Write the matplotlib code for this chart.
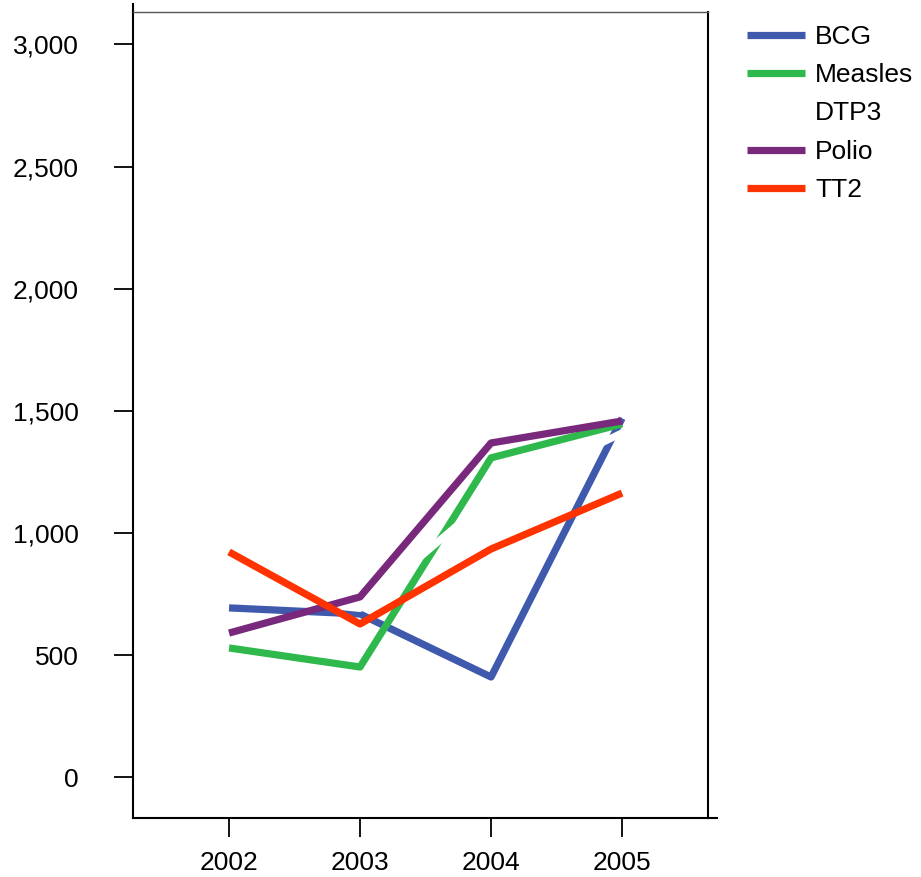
import matplotlib
matplotlib.use('Agg')
import matplotlib.pyplot as plt
from matplotlib.ticker import FuncFormatter

plt.rcParams['font.family'] = ['Liberation Sans', 'DejaVu Sans']

years = [2002, 2003, 2004, 2005]
bcg = [694, 669, 411, 1470]
measles = [530, 452, 1308, 1447]
dtp3 = [745, 692, 1150, 1410]
polio = [591, 739, 1369, 1459]
tt2 = [923, 628, 935, 1164]

names = ['BCG', 'Measles', 'DTP3', 'Polio', 'TT2']
colors = ['#3f59ad', '#2fb84b', '#ffffff', '#79297c', '#ff3300']
series = [bcg, measles, dtp3, polio, tt2]

W, H = 921, 877
fig = plt.figure(figsize=(W / 100, H / 100), dpi=100)
ax = fig.add_axes([133 / W, 1 - 818 / H, (708 - 133) / W, (818 - 12) / H])

for name, col, vals in zip(names, colors, series):
    ax.plot(years, vals, color=col, lw=5.2, label=name, solid_capstyle='butt')

ax.set_xlim(2001.267, 2005.656)
ax.set_ylim(-166, 3133)
ax.set_xticks(years)
ax.set_yticks([0, 500, 1000, 1500, 2000, 2500, 3000])
ax.yaxis.set_major_formatter(FuncFormatter(lambda v, p: '{:,.0f}'.format(v)))
ax.tick_params(axis='both', labelsize=19, length=14, width=1.3, color='black')
ax.tick_params(axis='y', pad=25)
ax.tick_params(axis='x', pad=10)

for s in ['left', 'bottom', 'right']:
    ax.spines[s].set_linewidth(1.5)
    ax.spines[s].set_color('black')
ax.spines['top'].set_linewidth(1.0)
ax.spines['top'].set_color('#555555')

# spine extensions past the frame
ax.plot([0, 0], [1, 1 + 8 / 806], transform=ax.transAxes, color='black',
        lw=1.5, clip_on=False)
ax.plot([1, 1 + 9 / 575], [0, 0], transform=ax.transAxes, color='black',
        lw=1.5, clip_on=False)

leg = ax.legend(loc='upper left', bbox_to_anchor=(747 / W, 1 - 25 / H),
                bbox_transform=fig.transFigure, frameon=False, fontsize=19,
                handlelength=2.2, handletextpad=0.38, labelspacing=0.54,
                borderpad=0, borderaxespad=0)

fig.savefig('out.png', dpi=100)
